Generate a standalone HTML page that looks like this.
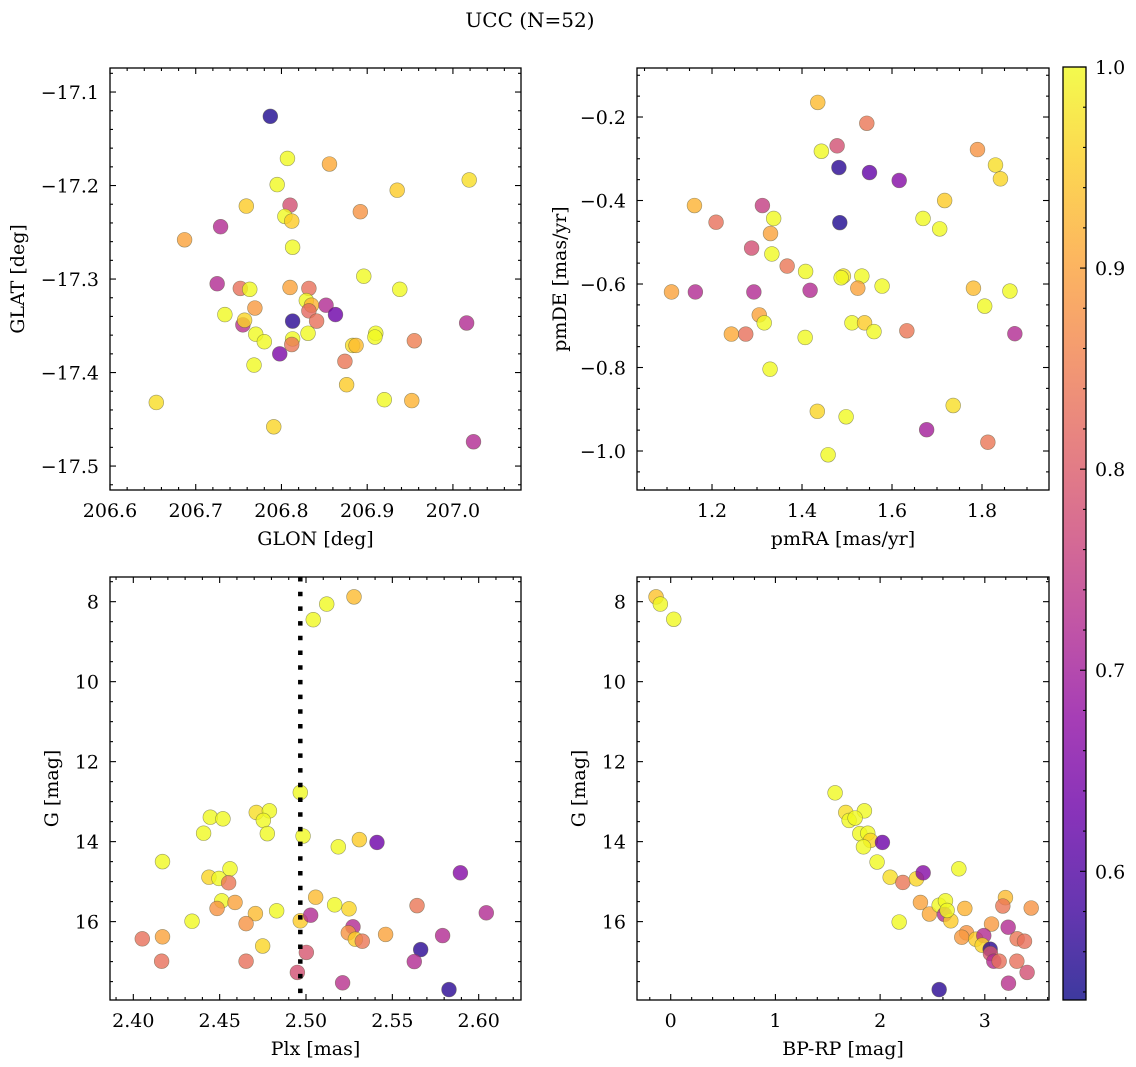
<!DOCTYPE html>
<html><head><meta charset="utf-8">
<style>
html,body{margin:0;padding:0;background:#fff;}
svg{display:block;font-family:"DejaVu Serif","Liberation Serif",serif;}
</style></head>
<body>
<svg id="fig" width="1136" height="1067" viewBox="0 0 1136 1067" xmlns="http://www.w3.org/2000/svg">
<defs>
<linearGradient id="plasma" x1="0" y1="1" x2="0" y2="0">
<stop offset="0" stop-color="#0d0887"/><stop offset="0.1" stop-color="#41049d"/><stop offset="0.2" stop-color="#6a00a8"/><stop offset="0.3" stop-color="#8f0da4"/><stop offset="0.4" stop-color="#b12a90"/><stop offset="0.5" stop-color="#cc4778"/><stop offset="0.6" stop-color="#e16462"/><stop offset="0.7" stop-color="#f2844b"/><stop offset="0.8" stop-color="#fca636"/><stop offset="0.9" stop-color="#fcce25"/><stop offset="1" stop-color="#f0f921"/>
</linearGradient>
</defs>
<text x="530" y="27" font-size="20" text-anchor="middle">UCC (N=52)</text>
</svg>
<script>
// Panel 1: GLON vs GLAT
const glon = [206.787,206.807,206.856,206.795,207.019,206.935,206.759,206.810,206.804,206.812,206.892,206.729,206.687,206.813,206.725,206.896,206.752,206.763,206.810,206.832,206.938,206.829,206.835,206.852,206.832,206.769,206.734,206.863,206.841,206.813,206.755,206.757,206.770,206.780,206.813,206.812,206.831,206.798,206.768,206.910,206.909,206.883,206.887,206.955,207.016,206.874,206.876,206.920,206.952,206.654,206.791,207.024];
const glat = [-17.126,-17.171,-17.177,-17.199,-17.194,-17.205,-17.222,-17.221,-17.233,-17.238,-17.228,-17.244,-17.258,-17.266,-17.305,-17.297,-17.310,-17.311,-17.309,-17.310,-17.311,-17.323,-17.328,-17.328,-17.334,-17.331,-17.338,-17.338,-17.345,-17.345,-17.349,-17.344,-17.359,-17.367,-17.364,-17.370,-17.358,-17.380,-17.392,-17.358,-17.362,-17.371,-17.371,-17.366,-17.347,-17.388,-17.413,-17.429,-17.430,-17.432,-17.458,-17.474];
const c1 = [0.55,1.0,0.91,1.0,0.97,0.95,0.95,0.78,1.0,0.95,0.88,0.72,0.9,1.0,0.72,1.0,0.83,1.0,0.9,0.83,1.0,1.0,0.92,0.72,0.82,0.89,1.0,0.63,0.83,0.56,0.73,0.96,1.0,1.0,1.0,0.84,1.0,0.65,1.0,1.0,1.0,0.97,0.93,0.85,0.72,0.84,0.95,1.0,0.92,0.97,0.96,0.72];
// Panel 2: pmRA vs pmDE
const pmra = [1.435,1.544,1.478,1.443,1.482,1.550,1.616,1.790,1.830,1.841,1.161,1.312,1.209,1.337,1.484,1.717,1.669,1.706,1.330,1.288,1.333,1.367,1.408,1.492,1.487,1.533,1.524,1.578,1.110,1.163,1.293,1.418,1.781,1.862,1.806,1.305,1.316,1.243,1.275,1.407,1.511,1.539,1.560,1.633,1.873,1.329,1.434,1.498,1.736,1.677,1.813,1.458];
const pmde = [-0.165,-0.215,-0.269,-0.282,-0.321,-0.333,-0.352,-0.278,-0.315,-0.348,-0.412,-0.412,-0.452,-0.443,-0.453,-0.400,-0.443,-0.468,-0.479,-0.514,-0.528,-0.557,-0.570,-0.581,-0.585,-0.581,-0.610,-0.605,-0.619,-0.619,-0.619,-0.615,-0.610,-0.617,-0.653,-0.674,-0.693,-0.720,-0.720,-0.728,-0.693,-0.693,-0.714,-0.712,-0.719,-0.804,-0.905,-0.918,-0.891,-0.949,-0.979,-1.009];
const c2 = [0.93,0.84,0.78,1.0,0.56,0.62,0.66,0.88,0.97,0.96,0.92,0.75,0.83,1.0,0.55,0.95,1.0,1.0,0.9,0.78,1.0,0.84,1.0,0.98,1.0,1.0,0.9,1.0,0.9,0.72,0.72,0.72,0.93,1.0,1.0,0.9,1.0,0.91,0.83,1.0,1.0,0.95,1.0,0.84,0.72,1.0,0.96,1.0,0.97,0.7,0.84,1.0];
// Panel 3: Plx vs G
const plx = [2.5278,2.5120,2.5042,2.4967,2.4446,2.4519,2.4712,2.4788,2.4753,2.4407,2.4776,2.4983,2.5187,2.5309,2.5411,2.4169,2.5894,2.4438,2.4496,2.4560,2.4552,2.4512,2.4485,2.4589,2.5056,2.5166,2.5249,2.5643,2.6044,2.4830,2.4707,2.4340,2.4653,2.4967,2.5027,2.5272,2.5245,2.5286,2.5326,2.5461,2.4052,2.4169,2.5791,2.4749,2.5664,2.5002,2.4164,2.4653,2.5627,2.4950,2.5212,2.5828];
const gmag3 = [7.88,8.06,8.45,12.77,13.39,13.43,13.27,13.23,13.47,13.79,13.80,13.86,14.13,13.95,14.02,14.50,14.78,14.89,14.92,14.68,15.03,15.48,15.67,15.52,15.39,15.58,15.68,15.60,15.78,15.73,15.80,15.99,16.05,15.98,15.84,16.13,16.28,16.44,16.49,16.32,16.43,16.38,16.35,16.61,16.70,16.77,16.99,16.99,17.00,17.27,17.53,17.70];
const c3 = [0.93,1.0,1.0,1.0,1.0,1.0,0.97,1.0,1.0,1.0,1.0,1.0,1.0,0.95,0.63,1.0,0.66,0.96,1.0,1.0,0.84,1.0,0.88,0.9,0.93,1.0,0.96,0.84,0.72,1.0,0.93,1.0,0.88,0.95,0.72,0.72,0.88,0.95,0.84,0.9,0.83,0.9,0.72,0.96,0.56,0.79,0.83,0.83,0.72,0.78,0.73,0.56];
const plxRef = [2.4967];
// Panel 4: BP-RP vs G
const bprp = [-0.140,-0.099,0.029,1.570,1.672,1.850,1.704,1.761,1.806,1.882,1.908,1.841,2.022,1.971,2.096,2.217,2.347,2.411,2.752,2.385,2.471,2.564,2.624,2.615,2.675,2.809,2.182,3.064,3.197,3.172,3.443,3.223,2.825,2.780,2.914,2.990,2.975,3.309,3.379,3.051,3.054,3.086,3.137,3.306,3.404,3.226,2.564,2.640];
const gmag4 = [7.88,8.06,8.44,12.78,13.27,13.23,13.47,13.41,13.80,13.79,13.97,14.13,14.02,14.51,14.89,15.02,14.93,14.78,14.68,15.52,15.81,15.59,15.48,15.82,15.98,15.67,16.01,16.06,15.40,15.61,15.66,16.14,16.28,16.39,16.44,16.35,16.59,16.43,16.49,16.69,16.80,16.99,16.99,16.99,17.27,17.54,17.70,15.72];
const c4 = [0.94,1.0,1.0,1.0,0.97,1.0,1.0,1.0,1.0,1.0,0.96,1.0,0.63,1.0,0.97,0.84,0.96,0.66,1.0,0.9,0.91,1.0,1.0,0.72,0.95,0.92,1.0,0.89,0.93,0.84,0.88,0.72,0.88,0.89,0.95,0.72,0.96,0.84,0.83,0.56,0.79,0.72,0.83,0.83,0.78,0.73,0.56,1.0];
// Colorbar
const cbTicks = [0.6,0.7,0.8,0.9,1.0];
const cbMin = 0.536, cbMax = 1.0;

const NS = "http://www.w3.org/2000/svg";
const svg = document.getElementById("fig");
const FS = 19;
const stops = [[13,8,135],[65,4,157],[106,0,168],[143,13,164],[177,42,144],[204,71,120],[225,100,98],[242,132,75],[252,166,54],[252,206,37],[240,249,33]];
function plasma(v){
  let t = Math.max(0, Math.min(1, (v - cbMin) / (cbMax - cbMin))) * 10;
  let i = Math.min(9, Math.floor(t)), f = t - i;
  const a = stops[i], b = stops[i + 1];
  return "rgb(" + [0,1,2].map(k => Math.round(a[k] + (b[k] - a[k]) * f)).join(",") + ")";
}
function mk(tag, attrs, parent){
  const e = document.createElementNS(NS, tag);
  for (const k in attrs) e.setAttribute(k, attrs[k]);
  (parent || svg).appendChild(e);
  return e;
}
function fmt(v, d){ const s = v.toFixed(d); return s.replace("-", "\u2212"); }

function panel(o){
  const g = mk("g", {});
  
  
  const sx = v => o.L + (v - o.x0) / (o.x1 - o.x0) * (o.R - o.L);
  const sy = v => o.T + (v - o.y0) / (o.y1 - o.y0) * (o.B - o.T);
  const pg = mk("g", {}, g);
  
  
  for (let i = 0; i < o.xs.length; i++) {
    const c = mk("circle", {cx: sx(o.xs[i]), cy: sy(o.ys[i]), r: 7.4, fill: plasma(o.cs[i]), "fill-opacity": 0.8, stroke: "rgba(90,90,60,0.6)", "stroke-width": 0.6}, pg);
    
    
  }
  if (o.vline) {
    for (const v of o.vline) {
      const ln = mk("line", {x1: sx(v), x2: sx(v), y1: o.T, y2: o.B, stroke: "#000", "stroke-width": 4.5, "stroke-dasharray": "4.5 10.2"}, g);
      
      
    }
  }
  const fr = mk("rect", {x: o.L, y: o.T, width: o.R - o.L, height: o.B - o.T, fill: "none", stroke: "#000", "stroke-width": 1.3}, g);
  
  
  const tg = mk("g", {stroke: "#000", "stroke-width": 1.1}, g);
  
  
  const xlo = Math.min(o.x0, o.x1), xhi = Math.max(o.x0, o.x1);
  const ylo = Math.min(o.y0, o.y1), yhi = Math.max(o.y0, o.y1);
  for (let k = Math.ceil(xlo / o.xmin - 1e-6); k * o.xmin <= xhi + 1e-9; k++) {
    const v = k * o.xmin, X = sx(v);
    const major = Math.abs(v / o.xmaj - Math.round(v / o.xmaj)) < 1e-4;
    const len = major ? 6 : 3;
    mk("line", {x1: X, x2: X, y1: o.B, y2: o.B - len}, tg);
    mk("line", {x1: X, x2: X, y1: o.T, y2: o.T + len}, tg);
  }
  for (let k = Math.ceil(ylo / o.ymin - 1e-6); k * o.ymin <= yhi + 1e-9; k++) {
    const v = k * o.ymin, Y = sy(v);
    const major = Math.abs(v / o.ymaj - Math.round(v / o.ymaj)) < 1e-4;
    const len = major ? 6 : 3;
    mk("line", {x1: o.L, x2: o.L + len, y1: Y, y2: Y}, tg);
    mk("line", {x1: o.R, x2: o.R - len, y1: Y, y2: Y}, tg);
  }
  for (const v of o.xticks) {
    const t = mk("text", {x: sx(v), y: o.B + 27, "font-size": FS, "text-anchor": "middle"}, g);
    t.textContent = fmt(v, o.xd);
    
    
  }
  for (const v of o.yticks) {
    const t = mk("text", {x: o.L - 11, y: sy(v) + 7, "font-size": FS, "text-anchor": "end"}, g);
    t.textContent = fmt(v, o.yd);
    
    
  }
  const xl = mk("text", {x: (o.L + o.R) / 2, y: o.B + 55, "font-size": FS, "text-anchor": "middle"}, g);
  xl.textContent = o.xlabel;
  
  
  const yl = mk("text", {x: 0, y: 0, "font-size": FS, "text-anchor": "middle", transform: "translate(" + o.ylx + "," + (o.T + o.B) / 2 + ") rotate(-90)"}, g);
  yl.textContent = o.ylabel;
  
  
}

panel({name: "panel-glon-glat", L: 110, R: 521, T: 68, B: 490, x0: 206.6, x1: 207.0794, y0: -17.0743, y1: -17.5256,
  xs: glon, ys: glat, cs: c1, xmaj: 0.1, xmin: 0.02, ymaj: 0.1, ymin: 0.02,
  xticks: [206.6,206.7,206.8,206.9,207.0], yticks: [-17.1,-17.2,-17.3,-17.4,-17.5], xd: 1, yd: 1,
  xlabel: "GLON [deg]", ylabel: "GLAT [deg]", ylx: 24});
panel({name: "panel-pmra-pmde", L: 637, R: 1049, T: 68, B: 490, x0: 1.0333, x1: 1.9489, y0: -0.0826, y1: -1.0934,
  xs: pmra, ys: pmde, cs: c2, xmaj: 0.2, xmin: 0.05, ymaj: 0.2, ymin: 0.05,
  xticks: [1.2,1.4,1.6,1.8], yticks: [-0.2,-0.4,-0.6,-0.8,-1.0], xd: 1, yd: 1,
  xlabel: "pmRA [mas/yr]", ylabel: "pmDE [mas/yr]", ylx: 566});
panel({name: "panel-plx-g", L: 110, R: 521, T: 577, B: 1000, x0: 2.3865, x1: 2.6245, y0: 7.383, y1: 17.96,
  xs: plx, ys: gmag3, cs: c3, xmaj: 0.05, xmin: 0.01, ymaj: 2, ymin: 0.5, vline: plxRef,
  xticks: [2.40,2.45,2.50,2.55,2.60], yticks: [8,10,12,14,16], xd: 2, yd: 0,
  xlabel: "Plx [mas]", ylabel: "G [mag]", ylx: 58});
panel({name: "panel-bprp-g", L: 637, R: 1049, T: 577, B: 1000, x0: -0.322, x1: 3.613, y0: 7.383, y1: 17.96,
  xs: bprp, ys: gmag4, cs: c4, xmaj: 1, xmin: 0.2, ymaj: 2, ymin: 0.5,
  xticks: [0,1,2,3], yticks: [8,10,12,14,16], xd: 0, yd: 0,
  xlabel: "BP-RP [mag]", ylabel: "G [mag]", ylx: 585});

(function(){
  const L = 1063, R = 1086, T = 67, B = 1000;
  const cy = v => B - (v - cbMin) / (cbMax - cbMin) * (B - T);
  const g = mk("g", {});
  
  
  const r = mk("rect", {x: L, y: T, width: R - L, height: B - T, fill: "url(#plasma)", "fill-opacity": 0.8, stroke: "#000", "stroke-width": 1.3}, g);
  
  
  for (let v = 0.54; v <= 1.0001; v += 0.02) {
    const major = Math.abs(v * 10 - Math.round(v * 10)) < 1e-4;
    mk("line", {x1: R, x2: R - (major ? 6 : 3), y1: cy(v), y2: cy(v), stroke: "#000", "stroke-width": 1.1}, g);
  }
  for (const v of cbTicks) {
    const t = mk("text", {x: R + 9, y: cy(v) + 7, "font-size": FS}, g);
    t.textContent = v.toFixed(1);
    
    
  }
})();
</script>
</body></html>
